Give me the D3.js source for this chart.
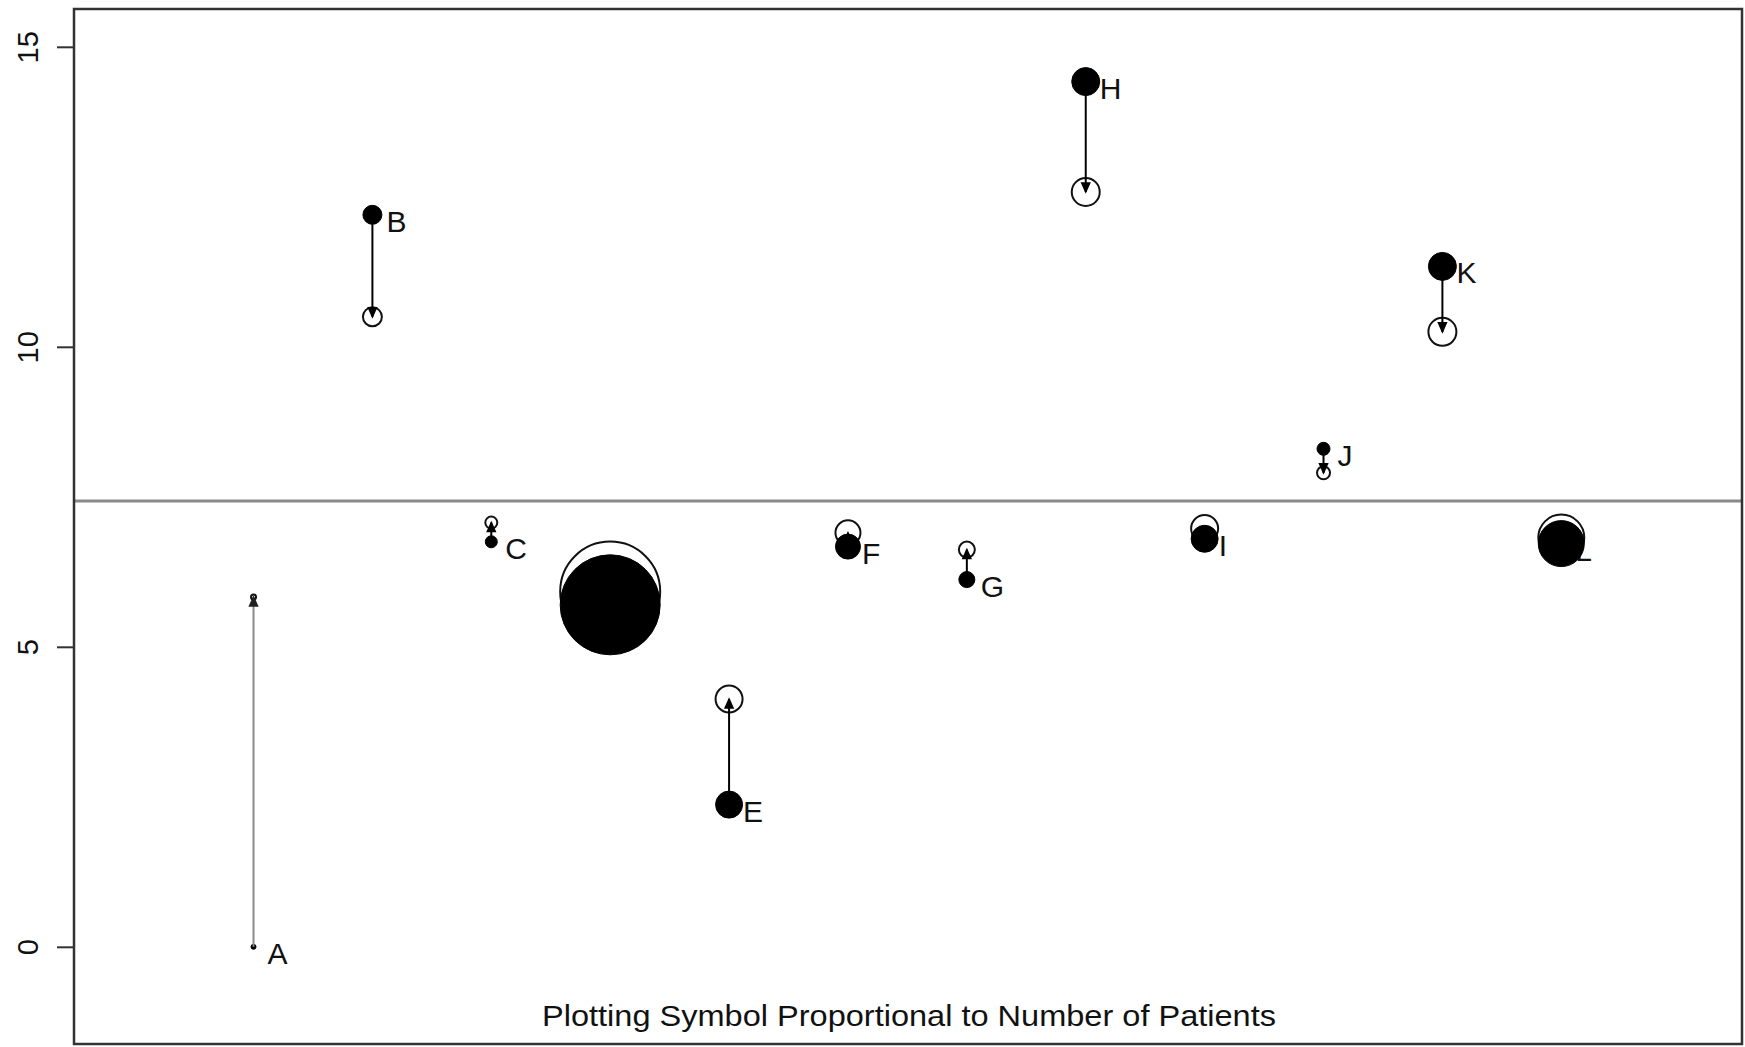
<!DOCTYPE html>
<html>
<head>
<meta charset="utf-8">
<script src="https://cdn.jsdelivr.net/npm/d3@7"></script>
<style>
  html, body { margin: 0; padding: 0; background: #fff; }
  svg { display: block; }
  text { font-family: "Liberation Sans", Arial, Helvetica, sans-serif; fill: #111; }
</style>
</head>
<body>
<svg id="chart" width="1745" height="1047"></svg>
<script>
// ---- data ----
const categories = ["A","B","C","D","E","F","G","H","I","J","K","L"];
const before = [0.00, 12.20, 6.75, 5.70, 2.37, 6.67, 6.12, 14.42, 6.80, 8.30, 11.34, 6.72];
const after  = [5.83, 10.50, 7.07, 5.92, 4.13, 6.90, 6.62, 12.58, 6.97, 7.90, 10.25, 6.82];
const patients = [20, 76, 48, 400, 108, 100, 64, 112, 108, 52, 112, 184];
const referenceLevel = 7.43;
const yTicks = [0, 5, 10, 15];
const footnote = "Plotting Symbol Proportional to Number of Patients";

// ---- layout ----
const svg = d3.select("#chart");
const frame = {left: 74, right: 1742, top: 9, bottom: 1044};

const x = d3.scaleLinear().domain([-0.51, 13.52]).range([frame.left, frame.right]);
const y = d3.scaleLinear().domain([-1.62, 15.63]).range([frame.bottom, frame.top]);
const r = d3.scaleLinear().domain([0, 400]).range([0, 50]);

const rows = categories.map((c, i) => ({
  cat: c, idx: i + 1, before: before[i], after: after[i], n: patients[i]
}));

// reference line
svg.append("line")
  .attr("x1", frame.left).attr("x2", frame.right)
  .attr("y1", y(referenceLevel)).attr("y2", y(referenceLevel))
  .attr("stroke", "#8a8a8a").attr("stroke-width", 3);

// y axis
const yAxis = d3.axisLeft(y).tickValues(yTicks).tickSize(17).tickFormat(d3.format("d"));
const gy = svg.append("g").attr("transform", `translate(${frame.left},0)`).call(yAxis);
gy.select(".domain").remove();
gy.selectAll(".tick line").attr("stroke", "#333").attr("stroke-width", 2);
gy.selectAll(".tick text")
  .attr("x", 0).attr("dy", null).attr("y", 0)
  .attr("transform", "translate(-36,0) rotate(-90)")
  .attr("text-anchor", "middle")
  .style("font-size", "29px")
  .style("font-family", "'Liberation Sans', Arial, sans-serif")
  .attr("fill", "#111");

// labels (drawn first so that large symbols can cover them)
svg.append("g").selectAll("text").data(rows).join("text")
  .attr("x", d => x(d.idx) + 14)
  .attr("y", d => y(d.before) + 17)
  .style("font-size", "30px")
  .text(d => d.cat);

// open circles (after)
svg.append("g").selectAll("circle").data(rows).join("circle")
  .attr("cx", d => x(d.idx)).attr("cy", d => y(d.after))
  .attr("r", d => r(d.n))
  .attr("fill", "none").attr("stroke", "#111").attr("stroke-width", 2);

// filled circles (before)
svg.append("g").selectAll("circle").data(rows).join("circle")
  .attr("cx", d => x(d.idx)).attr("cy", d => y(d.before))
  .attr("r", d => r(d.n))
  .attr("fill", "#000").attr("stroke", "#000").attr("stroke-width", 1);

// arrows from before to after
const arrows = svg.append("g");
rows.forEach(d => {
  const cx = x(d.idx), y0 = y(d.before), y1 = y(d.after);
  const col = d.cat === "A" ? "#8a8a8a" : "#000";
  arrows.append("line")
    .attr("x1", cx).attr("x2", cx).attr("y1", y0).attr("y2", y1)
    .attr("stroke", col).attr("stroke-width", 2);
  const dir = y1 < y0 ? 1 : -1; // head opens back toward the start
  const hl = Math.min(9, Math.abs(y1 - y0));
  arrows.append("path")
    .attr("d", `M${cx - 4},${y1 + dir * hl}L${cx},${y1}L${cx + 4},${y1 + dir * hl}Z`)
    .attr("fill", d.cat === "A" ? "#222" : col).attr("stroke", d.cat === "A" ? "#222" : col).attr("stroke-width", 1.5);
});

// frame
svg.append("rect")
  .attr("x", frame.left).attr("y", frame.top)
  .attr("width", frame.right - frame.left).attr("height", frame.bottom - frame.top)
  .attr("fill", "none").attr("stroke", "#333").attr("stroke-width", 2.5);

// footnote
svg.append("text")
  .attr("x", 909).attr("y", 1026)
  .attr("text-anchor", "middle")
  .attr("textLength", 734)
  .attr("lengthAdjust", "spacingAndGlyphs")
  .style("font-size", "30px")
  .text(footnote);
</script>
</body>
</html>
